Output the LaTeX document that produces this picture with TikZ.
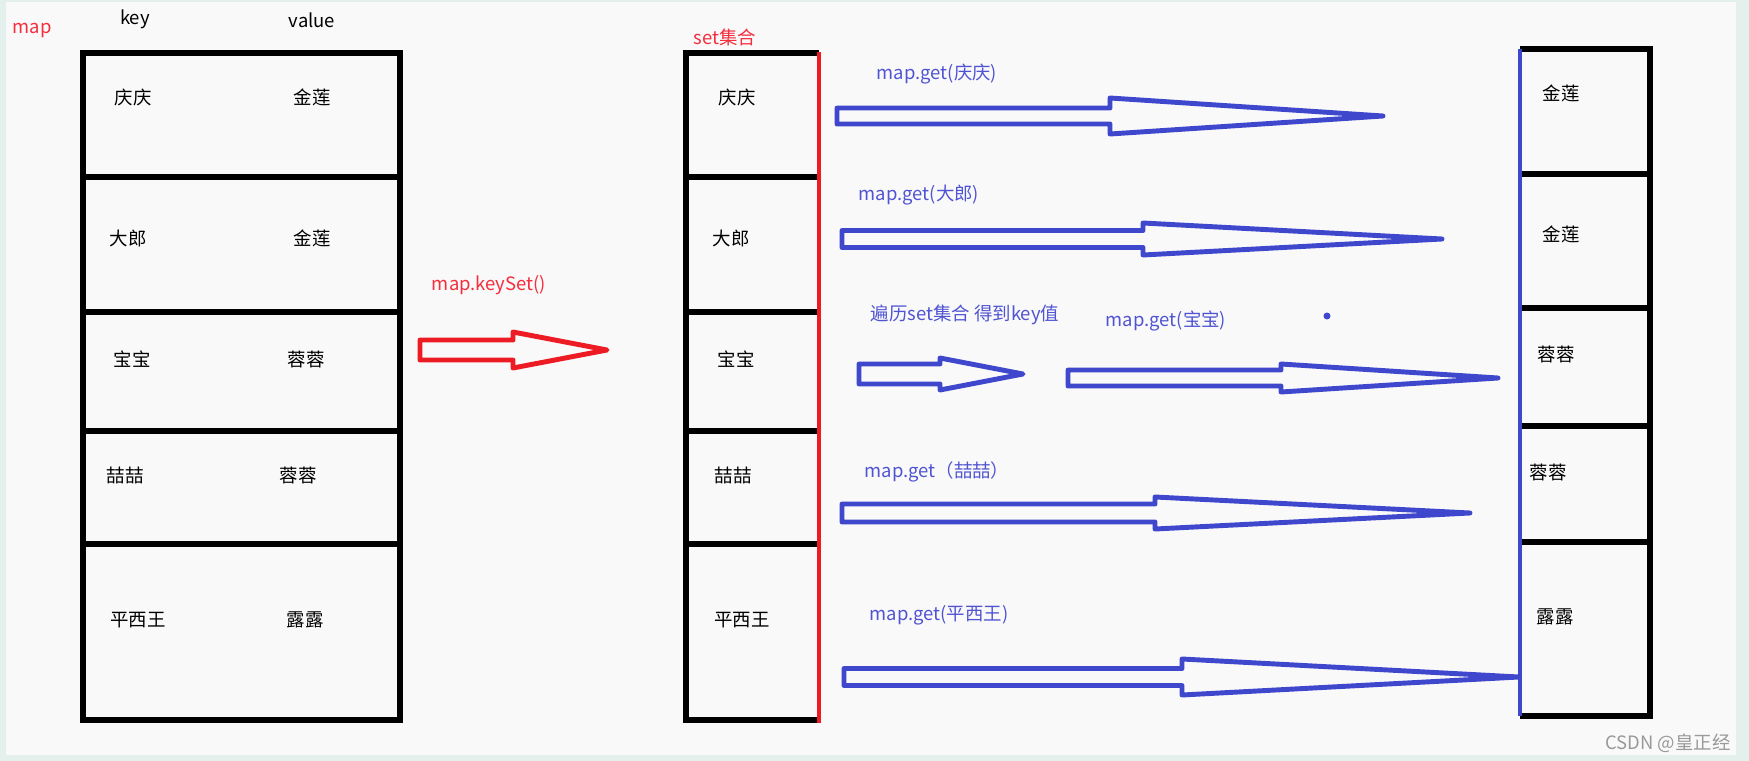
\documentclass[tikz,border=0pt]{standalone}
\usepackage{fontspec}
\setmainfont{Noto Sans CJK SC}

\definecolor{framegreen}{RGB}{228,240,235}
\definecolor{paper}{RGB}{249,249,249}
\definecolor{penred}{RGB}{237,28,36}
\definecolor{penblue}{RGB}{63,72,204}
\definecolor{textred}{RGB}{245,45,60}
\definecolor{textblue}{RGB}{80,84,210}

% hollow block arrow: style, left x, head x, tip x, mid y, half shaft, half head
\newcommand{\hollowarrow}[7]{%
  \draw[#1] (#2,#5-#6) -- (#3,#5-#6) -- (#3,#5-#7) -- (#4,#5)
    -- (#3,#5+#7) -- (#3,#5+#6) -- (#2,#5+#6) -- cycle;}

\begin{document}
\begin{tikzpicture}[x=0.02cm, y=-0.02cm, font=\fontsize{10.5pt}{12pt}\selectfont,
    border/.style={line width=3.2pt},
    pen/.style={line width=2.8pt, line join=round},
    redtext/.style={text=textred},
    bluetext/.style={text=textblue}]

    % background
    \fill[framegreen] (0,0) rectangle (1749,761);
    \fill[paper] (6,2) rectangle (1736,755);

    % map table
    \node[redtext] (map) at (32,30) {map};
    \node (key) at (135,19) {key};
    \node (value) at (312,20) {value};
    \draw[border] (83,53) rectangle (400,720);
    \draw[border] (83,177) -- (400,177);
    \draw[border] (83,312) -- (400,312);
    \draw[border] (83,431) -- (400,431);
    \draw[border] (83,544) -- (400,544);
    \node (k1) at (133,97) {庆庆};   \node (v1) at (312,97) {金莲};
    \node (k2) at (128,238) {大郎};  \node (v2) at (312,238) {金莲};
    \node (k3) at (132,359) {宝宝};  \node (v3) at (306,359) {蓉蓉};
    \node (k4) at (125,475) {喆喆};  \node (v4) at (298,475) {蓉蓉};
    \node (k5) at (138,620) {平西王}; \node (v5) at (305,620) {露露};

    % keySet arrow
    \node[redtext] (keyset) at (489,285) {map.keySet()};
    \hollowarrow{pen, penred}{420}{513}{607}{350}{10}{18}

    % set table
    \node[redtext] (set) at (725,37) {set集合};
    \draw[border] (819,53) -- (686,53) -- (686,720) -- (819,720);
    \draw[border] (686,177) -- (819,177);
    \draw[border] (686,312) -- (819,312);
    \draw[border] (686,431) -- (819,431);
    \draw[border] (686,544) -- (819,544);
    \draw[penred, line width=2.2pt] (819,52) -- (819,723);
    \node (s1) at (737,97) {庆庆};
    \node (s2) at (731,238) {大郎};
    \node (s3) at (736,359) {宝宝};
    \node (s4) at (733,475) {喆喆};
    \node (s5) at (742,620) {平西王};

    % value table
    \draw[border] (1520,49) -- (1650,49) -- (1650,716) -- (1520,716);
    \draw[border] (1520,174) -- (1650,174);
    \draw[border] (1520,308) -- (1650,308);
    \draw[border] (1520,426) -- (1650,426);
    \draw[border] (1520,542) -- (1650,542);
    \draw[penblue, line width=2.2pt] (1520,49) -- (1520,716);
    \node (r1) at (1561,93) {金莲};
    \node (r2) at (1561,234) {金莲};
    \node (r3) at (1556,354) {蓉蓉};
    \node (r4) at (1548,472) {蓉蓉};
    \node (r5) at (1555,617) {露露};

    % get arrows
    \node[bluetext] (get1) at (937,74) {map.get(庆庆)};
    \hollowarrow{pen, penblue}{837}{1110}{1383}{116}{8}{18}
    \node[bluetext] (get2) at (919,195) {map.get(大郎)};
    \hollowarrow{pen, penblue}{842}{1143}{1442}{239}{8.5}{16}
    \node[bluetext] (walk) at (965,315) {遍历set集合 得到key值};
    \hollowarrow{pen, penblue}{859}{940}{1023}{374}{10}{16}
    \node[bluetext] (get3) at (1166,321) {map.get(宝宝)};
    \hollowarrow{pen, penblue}{1068}{1281}{1498}{378}{8}{14}
    \fill[penblue] (1327,316) circle[radius=3.5];
    \node[bluetext] (get4) at (937,472) {map.get（喆喆）};
    \hollowarrow{pen, penblue}{842}{1155}{1470}{513}{9}{16}
    \node[bluetext] (get5) at (939,615) {map.get(平西王)};
    \hollowarrow{pen, penblue}{844}{1182}{1519}{677}{8.5}{18}

    % watermark
    \node[text=gray!80] (mark) at (1668,743) {CSDN @皇正经};
\end{tikzpicture}
\end{document}
